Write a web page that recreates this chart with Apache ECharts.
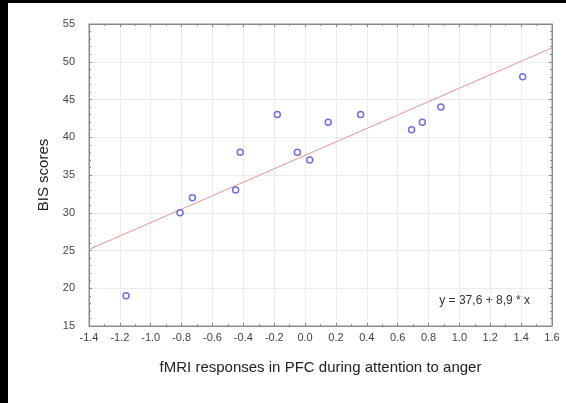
<!DOCTYPE html>
<html>
<head>
<meta charset="utf-8">
<script src="https://cdn.jsdelivr.net/npm/echarts@6/dist/echarts.min.js"></script>
<style>html,body{margin:0;padding:0;background:#fff}#c{width:566px;height:403px}</style>
</head>
<body>
<div id="c"></div>
<script>
// data
var fmri = [-1.16, -0.81, -0.73, -0.45, -0.42, -0.18, -0.05, 0.03, 0.15, 0.36, 0.69, 0.76, 0.88, 1.41];
var bis  = [19, 30, 32, 33, 38, 43, 38, 37, 42, 43, 41, 42, 44, 48];
var fitX = [-1.4, 1.6];
var fitY = [25.14, 51.84];
var eqText = 'y = 37,6 + 8,9 * x';
var xTitle = 'fMRI responses in PFC during attention to anger';
var yTitle = 'BIS scores';

var pts = fmri.map(function (v, i) { return [v, bis[i]]; });
var fit = fitX.map(function (v, i) { return [v, fitY[i]]; });

var axisCol = '#8a8a8a';
var labelCol = '#444';
var ff = 'Liberation Sans, Arial, sans-serif';

var chart = echarts.init(document.getElementById('c'), null, {renderer: 'canvas'});
chart.setOption({
  backgroundColor: '#fff',
  animation: false,
  grid: {left: 89, right: 14, top: 24, bottom: 77, show: true, borderColor: axisCol, borderWidth: 1, backgroundColor: '#fff'},
  xAxis: [{
    type: 'value', min: -1.4, max: 1.6, interval: 0.2,
    name: xTitle, nameLocation: 'middle', nameGap: 34,
    nameTextStyle: {fontFamily: ff, fontSize: 15, color: '#222'},
    axisLine: {show: true, onZero: false, lineStyle: {color: axisCol}},
    axisTick: {show: true, inside: true, length: 3, lineStyle: {color: axisCol}},
    minorTick: {show: true, splitNumber: 2, length: 2, lineStyle: {color: axisCol}},
    axisLabel: {fontFamily: ff, fontSize: 11, color: labelCol, margin: 6, formatter: function (v) { return v.toFixed(1); }},
    splitLine: {show: true, lineStyle: {color: '#ececec'}}
  }, {
    type: 'value', min: -1.4, max: 1.6, interval: 0.2, position: 'top',
    axisLine: {show: true, onZero: false, lineStyle: {color: axisCol}},
    axisTick: {show: true, inside: true, length: 3, lineStyle: {color: axisCol}},
    minorTick: {show: true, splitNumber: 2, length: 2, lineStyle: {color: axisCol}},
    axisLabel: {show: false}, splitLine: {show: false}
  }],
  yAxis: [{
    type: 'value', min: 15, max: 55, interval: 5,
    name: yTitle, nameLocation: 'middle', nameGap: 38, nameRotate: 90,
    nameTextStyle: {fontFamily: ff, fontSize: 15, color: '#222'},
    axisLine: {show: true, onZero: false, lineStyle: {color: axisCol}},
    axisTick: {show: true, inside: true, length: 3, lineStyle: {color: axisCol}},
    minorTick: {show: true, splitNumber: 5, length: 2, lineStyle: {color: axisCol}},
    axisLabel: {fontFamily: ff, fontSize: 11, color: labelCol, margin: 14},
    splitLine: {show: true, lineStyle: {color: '#ececec'}}
  }, {
    type: 'value', min: 15, max: 55, interval: 5, position: 'right',
    axisLine: {show: true, onZero: false, lineStyle: {color: axisCol}},
    axisTick: {show: true, inside: true, length: 3, lineStyle: {color: axisCol}},
    minorTick: {show: true, splitNumber: 5, length: 2, lineStyle: {color: axisCol}},
    axisLabel: {show: false}, splitLine: {show: false}
  }],
  series: [{
    type: 'line', data: fit, showSymbol: false, symbol: 'none',
    lineStyle: {color: '#e89494', width: 1}, z: 2, silent: true
  }, {
    type: 'scatter', data: pts, symbol: 'circle', symbolSize: 6,
    itemStyle: {color: '#fff', borderColor: '#4c4cd4', borderWidth: 1.5}, z: 3
  }],
  graphic: [
    {type: 'rect', left: 0, top: 0, shape: {width: 8, height: 403}, style: {fill: '#000'}},
    {type: 'rect', left: 0, top: 0, shape: {width: 566, height: 3}, style: {fill: '#000'}},
    {type: 'text', right: 36, top: 295, style: {text: eqText, font: '12px ' + ff, fill: '#333'}}
  ]
});
</script>
</body>
</html>
